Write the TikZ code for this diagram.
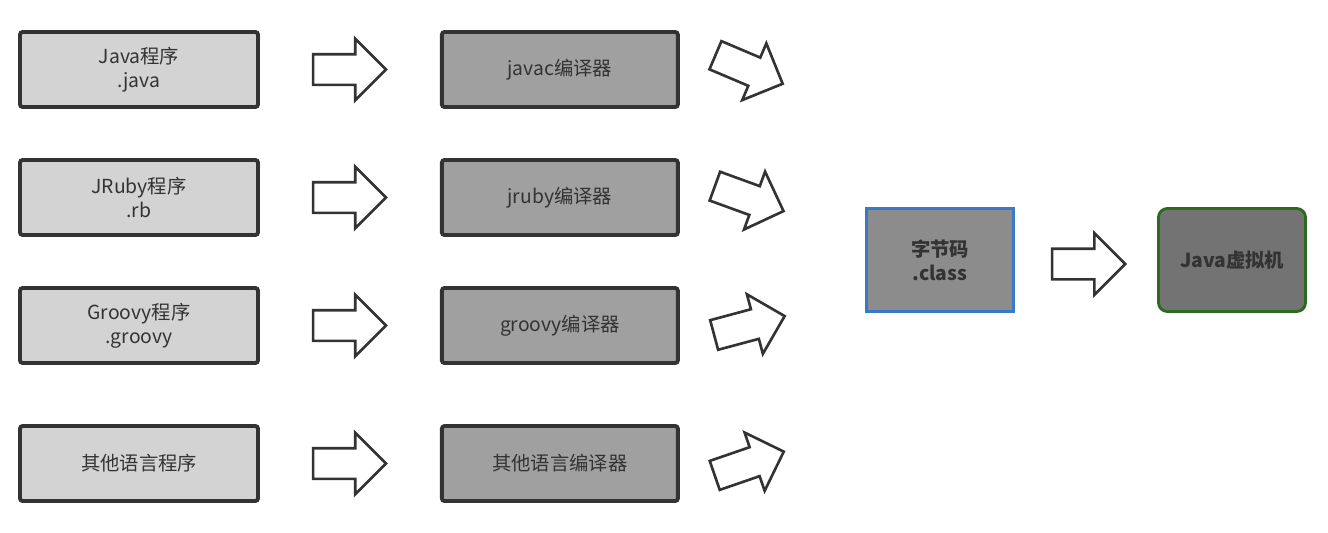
\documentclass[tikz,border=0pt]{standalone}
\usepackage{fontspec}
\setmainfont{Noto Sans CJK SC}
\usepackage{xcolor}
\usetikzlibrary{calc,positioning,shapes.arrows}
\definecolor{Ink}{HTML}{333333}
\definecolor{SrcGray}{HTML}{D3D3D3}
\definecolor{CompGray}{HTML}{A0A0A0}
\definecolor{CodeGray}{HTML}{8C8C8C}
\definecolor{VmGray}{HTML}{737373}
\definecolor{CodeBlue}{HTML}{3A78C8}
\definecolor{VmGreen}{HTML}{2D6A1E}
\tikzset{
  every picture/.style={line width=1.5pt},
  srcbox/.style={
    draw=Ink,
    line width=2.2pt,
    rounded corners=1.5pt,
    align=center,
    font=\fontsize{11}{13.6}\selectfont,
    text=Ink,
    minimum width=4.76cm,
    minimum height=1.5cm,
    inner sep=2pt,
    fill=SrcGray
  },
  compbox/.style={srcbox, fill=CompGray, minimum width=4.72cm},
  codebox/.style={srcbox, fill=CodeGray, draw=CodeBlue, line width=1.6pt,
    rounded corners=0pt, minimum width=2.94cm, minimum height=2.06cm,
    font=\fontsize{11}{13.6}\selectfont\bfseries},
  vmbox/.style={codebox, fill=VmGray, draw=VmGreen, rounded corners=5pt},
  blockarrow/.style={
    single arrow,
    draw=Ink,
    fill=white,
    line width=1.5pt,
    inner sep=0.28cm,
    single arrow head extend=0.31cm,
    minimum height=1.46cm
  }
}

\begin{document}
\begin{tikzpicture}
  \useasboundingbox (0,0) rectangle (26.56,-10.64);

  % source programs
  \node[srcbox] (javasrc) at (2.78,-1.39) {Java程序\\.java};
  \node[srcbox] (rubysrc) at (2.78,-3.95) {JRuby程序\\.rb};
  \node[srcbox] (groovysrc) at (2.78,-6.51) {Groovy程序\\.groovy};
  \node[srcbox] (othersrc) at (2.78,-9.27) {其他语言程序};

  % compilers
  \node[compbox, right=3.6cm of javasrc] (javac) {javac编译器};
  \node[compbox, right=3.6cm of rubysrc] (jrubyc) {jruby编译器};
  \node[compbox, right=3.6cm of groovysrc] (groovyc) {groovy编译器};
  \node[compbox, right=3.6cm of othersrc] (otherc) {其他语言编译器};

  \node[blockarrow] (ar1) at ($(javasrc.east)!0.5!(javac.west)+(-0.16,0)$) {};
  \node[blockarrow] (ar2) at ($(rubysrc.east)!0.5!(jrubyc.west)+(-0.16,0)$) {};
  \node[blockarrow] (ar3) at ($(groovysrc.east)!0.5!(groovyc.west)+(-0.16,0)$) {};
  \node[blockarrow] (ar4) at ($(othersrc.east)!0.5!(otherc.west)+(-0.16,0)$) {};

  % towards the byte code
  \node[blockarrow, rotate=-23] (dr1) at (14.84,-1.33) {};
  \node[blockarrow, rotate=-20] (dr2) at (14.84,-3.92) {};
  \node[blockarrow, rotate=15] (dr3) at (14.84,-6.55) {};
  \node[blockarrow, rotate=19] (dr4) at (14.84,-9.32) {};

  \node[codebox] (bytecode) at (18.8,-5.2) {字节码\\.class};
  \node[vmbox] (jvm) at (24.64,-5.2) {Java虚拟机};
  \node[blockarrow] (ar5) at ($(bytecode.east)!0.5!(jvm.west)+(-0.1,-0.08)$) {};
\end{tikzpicture}
\end{document}
